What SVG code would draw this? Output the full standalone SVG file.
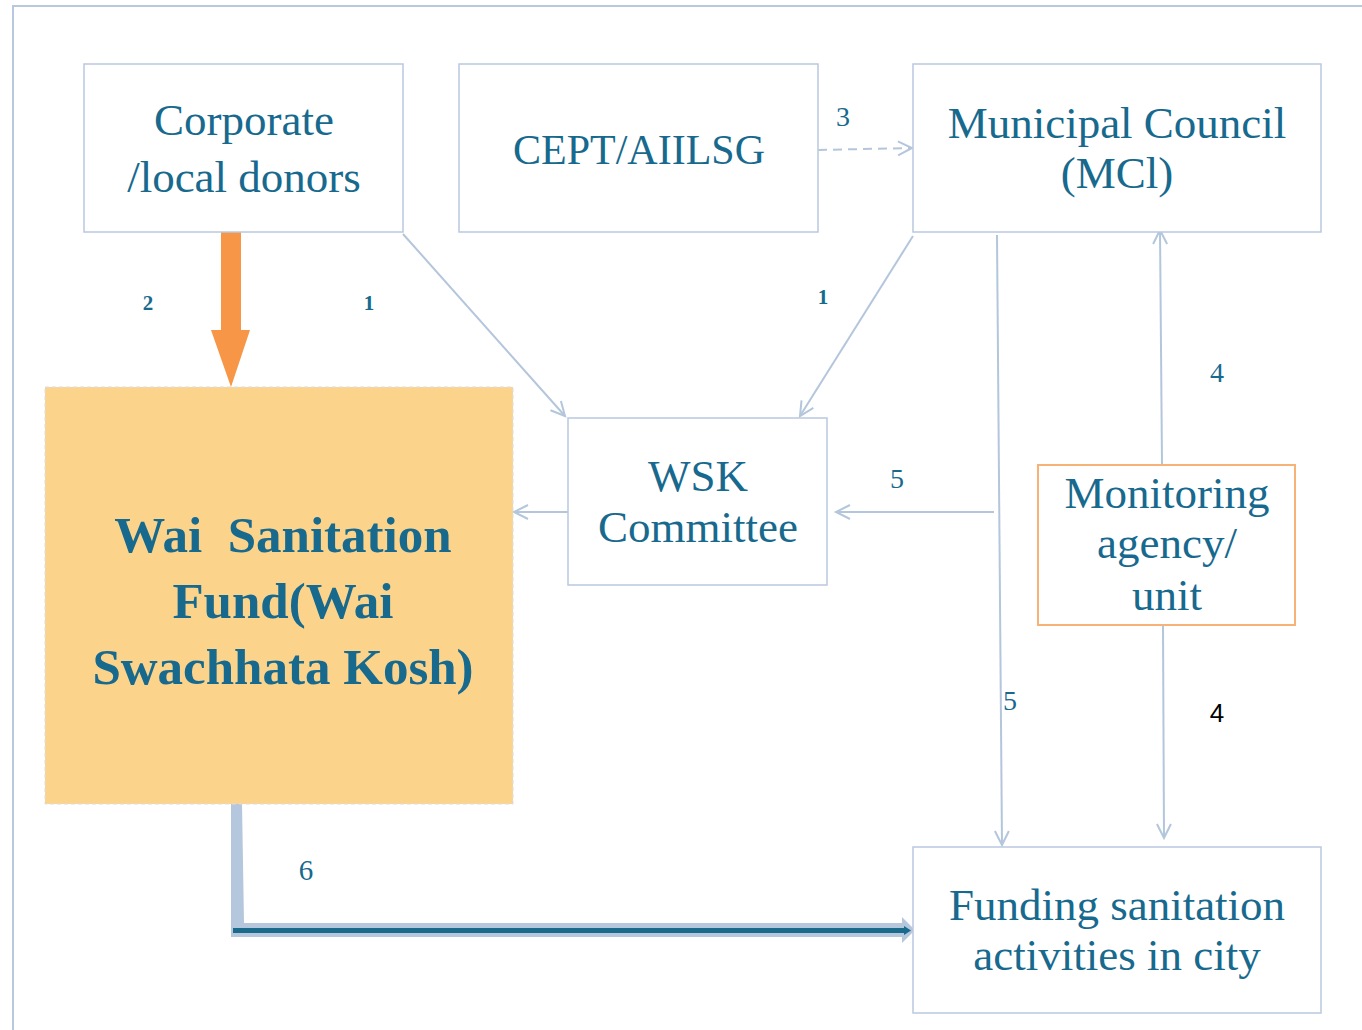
<svg xmlns="http://www.w3.org/2000/svg" width="1362" height="1030" viewBox="0 0 1362 1030">
<style>
.box{fill:#ffffff;stroke:#b9c9df;stroke-width:1.5}
.t{font-family:"Liberation Serif","Times New Roman",serif;font-size:45px;fill:#17698e;text-anchor:middle}
.tb{font-family:"Liberation Serif","Times New Roman",serif;font-size:51px;font-weight:bold;fill:#17698e;text-anchor:middle;white-space:pre}
.n{font-family:"Liberation Serif","Times New Roman",serif;font-size:28px;fill:#17698e;text-anchor:middle}
.ns{font-family:"Liberation Serif","Times New Roman",serif;font-size:21px;font-weight:bold;fill:#17698e;text-anchor:middle}
.c{fill:none;stroke:#b4c6dc;stroke-width:2}
</style>
<defs>
<marker id="ah" markerUnits="userSpaceOnUse" markerWidth="18" markerHeight="18" refX="15" refY="9" orient="auto" viewBox="0 0 18 18">
<path d="M1,2 L15,9 L1,16" fill="none" stroke="#b4c6dc" stroke-width="2"/>
</marker>
</defs>
<rect width="1362" height="1030" fill="#ffffff"/>
<path d="M13,1030 L13,6 L1362,6" fill="none" stroke="#b8c8de" stroke-width="2"/>

<g id="connectors">
<polygon points="221,232 241,232 241,330 250,330 231,387 211,330 221,330" fill="#f79646"/>
<line class="c" x1="403" y1="234" x2="565" y2="416" marker-end="url(#ah)"/>
<line class="c" x1="913" y1="236" x2="800" y2="416" marker-end="url(#ah)"/>
<line class="c" x1="818" y1="150" x2="912" y2="148" stroke-dasharray="9,6" stroke-width="2.5" marker-end="url(#ah)"/>
<line class="c" x1="568" y1="512" x2="514" y2="512" marker-end="url(#ah)"/>
<line class="c" x1="994" y1="512" x2="836" y2="512" marker-end="url(#ah)"/>
<line class="c" x1="997" y1="235" x2="1002" y2="845" marker-end="url(#ah)"/>
<line class="c" x1="1162" y1="465" x2="1160" y2="230" marker-end="url(#ah)"/>
<line class="c" x1="1163" y1="625" x2="1164" y2="838" marker-end="url(#ah)"/>
<polygon points="231,804 242,804 244,923 902,923 902,917 915,930 902,943 902,937 231,937" fill="#b4c7dd"/>
<line x1="233" y1="930.5" x2="905" y2="930.5" stroke="#1a6a8c" stroke-width="5"/>
<polygon points="904,926 911,930.5 904,935" fill="#1a6a8c"/>
<text class="ns" x="148" y="310">2</text>
<text class="ns" x="369" y="310">1</text>
<text class="ns" x="823" y="304">1</text>
<text class="n" x="843" y="126">3</text>
<text class="n" x="897" y="488">5</text>
<text class="n" x="1010" y="710">5</text>
<text class="n" x="1217" y="382">4</text>
<text x="1217" y="722" font-family="Liberation Sans, Arial, sans-serif" font-size="26" fill="#000000" text-anchor="middle">4</text>
<text class="n" x="306" y="880" style="font-size:29px">6</text>
</g>

<g id="corporate">
<rect class="box" x="84" y="64" width="319" height="168"/>
<text class="t" x="244" y="135">Corporate</text>
<text class="t" x="244" y="192">/local donors</text>
</g>
<g id="cept">
<rect class="box" x="459" y="64" width="359" height="168"/>
<text class="t" x="639" y="164" style="font-size:42px">CEPT/AIILSG</text>
</g>
<g id="mc">
<rect class="box" x="913" y="64" width="408" height="168"/>
<text class="t" x="1117" y="138">Municipal Council</text>
<text class="t" x="1117" y="188">(MCl)</text>
</g>
<g id="wai">
<rect x="45" y="387" width="468" height="417" fill="#fcd38a" stroke="#d6dde8" stroke-width="1" stroke-dasharray="4,3"/>
<text class="tb" x="283" y="552" xml:space="preserve">Wai  Sanitation</text>
<text class="tb" x="283" y="618">Fund(Wai</text>
<text class="tb" x="283" y="684">Swachhata Kosh)</text>
</g>
<g id="wsk">
<rect class="box" x="568" y="418" width="259" height="167"/>
<text class="t" x="698" y="491">WSK</text>
<text class="t" x="698" y="542">Committee</text>
</g>
<g id="monitoring">
<rect x="1038" y="465" width="257" height="160" fill="#ffffff" stroke="#f7b277" stroke-width="2"/>
<text class="t" x="1167" y="508">Monitoring</text>
<text class="t" x="1167" y="558">agency/</text>
<text class="t" x="1167" y="610">unit</text>
</g>
<g id="funding">
<rect class="box" x="913" y="847" width="408" height="166"/>
<text class="t" x="1117" y="920">Funding sanitation</text>
<text class="t" x="1117" y="970">activities in city</text>
</g>
</svg>
